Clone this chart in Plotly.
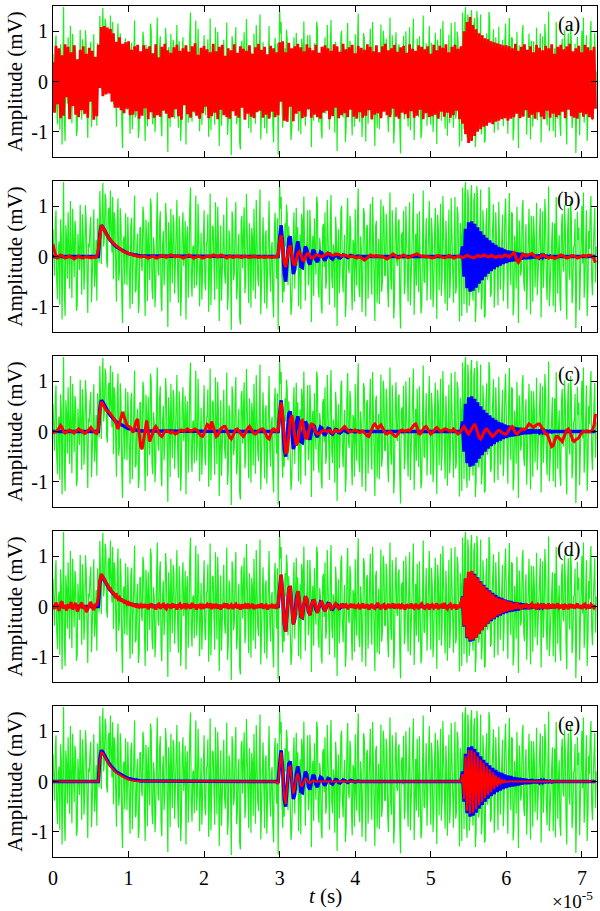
import numpy as np
import plotly.graph_objects as go

# ---------------- data (amplitudes in hundredths of mV) ----------------
DT = 0.02e-5          # sampling interval of the reference / reconstructed traces, s
DT_G = 0.01e-5        # sampling interval of the noisy (green) trace, s
T_MAX = 7.2e-5
X_TICKS = [0, 1, 2, 3, 4, 5, 6, 7]     # x 1e-5 s
Y_TICKS = [-1, 0, 1]
Y_TICKTEXT = ["-1", "0", "1"]
PANEL_LABELS = ["(a)", "(b)", "(c)", "(d)", "(e)"]

green = [
    55, -20, -38, 67, 92, -51, -85, 14, 30, -96, 74, 40, -125, 18, 148, -70, -118, 62, 35, -44,
    88, 8, -64, 110, -12, -83, 95, 29, -41, 71, 57, -108, -97, 45, 12, -27, 103, -59, -76, 84,
    41, -66, -23, 102, 66, -35, -112, 26, 18, 58, 79, -91, -49, 17, 94, -60, -31, 33, -88, 76,
    52, -12, 130, 35, -15, 92, 146, 20, 38, 125, 112, -10, -22, 86, 97, 30, 131, 52, 8, 118,
    -45, 88, 72, -20, -90, 64, 115, -48, -28, 96, 64, -77, -132, 31, 40, -55, 86, 12, -57, 79,
    23, -38, -104, 60, 77, -95, -8, 43, 121, -71, -66, 24, 45, -112, -93, 57, 58, -16, -29, 99,
    84, -41, -118, 73, 33, -89, 69, 5, -47, 115, 101, -62, -85, 38, 16, -101, -62, 47, 127, -26,
    -38, 64, 90, -79, -109, 22, 51, -57, -21, 106, 76, -33, -140, 68, 28, -91, 95, 11, -53, 83,
    67, -74, -26, 49, 112, -37, -92, 80, 39, -118, -71, 55, 88, -19, 5, 71, -125, 36, 60, -82,
    -34, 93, 137, -45, -80, 18, 22, -63, 73, 121, -58, -28, 105, 42, -99, -7, 47, -86, -15, 65,
    92, -52, -67, 27, 31, 84, -110, -39, 125, -97, -43, 61, 58, -14, -86, 108, 14, -65, 99, 37,
    -128, 46, 62, -88, -20, 75, 83, -30, -54, 13, 117, -106, -75, 52, 36, -21, -146, 90, 70, -47,
    -31, 63, 108, -85, -62, 21, 45, -119, -135, 70, 81, -24, 19, 98, -73, -50, 124, 32, -48, -93,
    66, 15, -102, 57, 37, -68, 95, 26, -84, 112, 10, -40, -59, 87, 133, -115, -27, 49, 78, -9,
    -93, 41, 52, -104, -16, 69, 110, -33, -70, 16, 29, -88, -121, 54, 87, -2, -44, 76, -145, 30,
    141, 95, 118, -40, -92, -12, -70, 66, 20, 103, 84, -57, 60, 22, -78, -116, -95, 9, 46, 88,
    -64, 31, 97, -18, 58, -99, -40, 44, -105, 85, 72, -26, 119, -69, -88, 11, 25, 92, -57, -34,
    93, 47, -130, 21, 41, -78, 76, 6, -36, 119, 104, -61, -82, 37, 18, -96, -113, 58, 65, -21,
    88, -64, -47, 112, 31, -15, -96, 68, 122, -41, -63, 24, 7, -102, 79, 50, -138, 17, 54, -73,
    -25, 90, 101, -36, -71, 8, 43, -120, -89, 64, 116, -22, -33, 81, 60, -55, -107, 33, 26, -90,
    94, -19, -58, 73, 135, -62, -81, 40, 17, -110, -44, 96, 86, -3, -119, 55, 63, -84, -9, 29,
    105, -47, -76, 118, 38, -25, -128, 60, 71, -92, 22, 35, -95, 13, 113, -70, -50, 101, 82, -38,
    -37, 85, 59, -67, -101, 19, 127, -44, -66, 92, 30, -123, -84, 57, 98, -11, -19, 66, 74, -87,
    -143, 39, 48, -6, 91, -75, -55, 100, 13, -31, -90, 48, 108, -97, -42, 23, 67, 125, -116, 12,
    45, -58, 85, 4, -71, 90, 20, -113, -99, 36, 131, -49, -52, 18, 76, -88, -27, 61, 110, -16,
    -86, 77, 39, -101, -61, 42, 97, -29, -124, 83, 55, -67, 8, 105, -78, -40, 120, 15, -34, -94,
    71, 28, -108, 59, 93, -83, -45, 116, 26, -52, -92, 10, 118, -74, -60, 99, 84, -31, -129, 67,
    42, -118, 137, 51, -95, 124, 148, -77, -112, 133, 104, -98, -70, 120, 142, -56, -88, 110, 126, -130,
    -97, 140, 115, -72, -64, 35, 133, -105, -81, 92, 52, -121, -118, 60, 96, -46, -35, 138, 122, -80,
    -74, 19, 60, 104, -102, -58, 88, 47, -19, -97, 109, 26, -66, -12, 41, 83, -89, -43, 77, 115,
    30, -71, -104, 55, 126, -20, -57, 88, 84, -117, -93, 41, 14, -64, 99, 9, -132, 72, 47, -38,
    -26, 93, 112, -50, -69, 27, 64, -106, -48, 58, 95, -15, -115, 81, 36, -90, 80, 43, -61, -8,
    107, -77, -38, 20, 54, 96, -121, -35, 90, -62, -15, 114, 73, -48, -87, 31, 139, -99, -53, 16,
    28, 68, -99, -22, 66, -111, 118, 39, -74, 7, 42, -85, -108, 62, 85, -18, -30, 102, 61, -70,
    -125, 44, 96, -29, -46, 110, 79, -93, -68, 18, 23, 75, -142, -60, 89, 33, 57, -107, -36, 64,
    101, -14, 127, -82, -48, 24, 92, -118, -63, 51, 15, 87, 120, -45, -77, 6, 38, 97, -52, 20,
]

blue = [
    0, 0, 0, 0, 0, 0, 0, 0, 0, 0, 0, 0, 0, 0, 0, 0, 0, 0, 0, 0,
    0, 0, 0, 0, 0, 0, 0, 0, 0, 0, 0, 45, 62, 58, 52, 46, 41, 36, 32, 28,
    25, 22, 19, 17, 15, 13, 11, 10, 9, 7, 6, 5, 5, 4, 3, 3, 2, 2, 1, 1,
    1, 0, 0, 0, 0, 0, 0, 0, 0, 0, 0, 0, 0, 0, 0, 0, 0, 0, 0, 0,
    0, 0, 0, 0, 0, 0, 0, 0, 0, 0, 0, 0, 0, 0, 0, 0, 0, 0, 0, 0,
    0, 0, 0, 0, 0, 0, 0, 0, 0, 0, 0, 0, 0, 0, 0, 0, 0, 0, 0, 0,
    0, 0, 0, 0, 0, 0, 0, 0, 0, 0, 0, 0, 0, 0, 0, 0, 0, 0, 0, 0,
    0, 0, 0, 0, 0, 0, 0, 0, 0, 0, 35, 62, 25, -35, -50, -10, 35, 40, -5, -35,
    -25, 15, 30, 12, -20, -22, 2, 20, 14, -10, -16, -2, 13, 10, -6, -11, -2, 9, 7, -4,
    -8, -1, 6, 5, -3, -5, 0, 4, 3, -2, -3, 0, 3, 2, -1, -2, 0, 2, 1, -1,
    -1, 0, 1, 0, 0, 0, 0, 0, 0, 0, 0, 0, 0, 0, 0, 0, 0, 0, 0, 0,
    0, 0, 0, 0, 0, 0, 0, 0, 0, 0, 0, 0, 0, 0, 0, 0, 0, 0, 0, 0,
    0, 0, 0, 0, 0, 0, 0, 0, 0, 0, 0, 0, 0, 0, 0, 0, 0, 0, 0, 0,
    0, 0, 0, 0, 0, 0, 0, 0, 0, 0, 0, 20, -40, 55, -63, 68, -70, 70, -68, 65,
    -62, 58, -54, 50, -47, 43, -40, 37, -34, 32, -29, 27, -25, 23, -21, 19, -18, 17, -15, 14,
    -13, 12, -11, 11, -10, 9, -9, 8, -8, 7, -6, 6, -5, 5, -5, 4, -4, 4, -3, 3,
    -3, 3, -2, 2, -2, 2, -1, 1, -1, 1, -1, 0, 0, 0, 0, 0, 0, 0, 0, 0,
    0, 0, 0, 0, 0, 0, 0, 0, 0, 0, 0, 0, 0, 0, 0, 0, 0, 0, 0, 0,
]

red_a = [
    38, -62, 71, -45, 66, -73, 52, -68, 74, -31, 69, -75, 58, -49, 72, -66, 44, -71, 63, -57,
    70, -64, 55, -72, 67, -40, 61, -76, 49, -69, 73, -13, 108, -29, 110, -26, 107, -24, 104, -40,
    96, -52, 79, -52, 88, -57, 75, -63, 78, -54, 80, -67, 63, -66, 70, -59, 73, -74, 60, -68,
    72, -53, 65, -75, 70, -61, 56, -72, 74, -67, 48, -70, 69, -58, 75, -64, 62, -73, 57, -71,
    68, -55, 73, -69, 61, -76, 66, -47, 72, -65, 59, -72, 70, -60, 76, -68, 53, -74, 67, -63,
    71, -50, 64, -73, 58, -69, 75, -62, 60, -75, 69, -56, 73, -67, 51, -71, 66, -74, 62, -59,
    74, -68, 57, -72, 70, -52, 65, -76, 61, -64, 72, -70, 55, -73, 68, -61, 75, -58, 63, -72,
    69, -66, 54, -74, 71, -60, 66, -71, 58, -67, 78, -40, 80, -78, 58, -80, 77, -50, 66, -79,
    70, -64, 75, -59, 68, -73, 60, -70, 74, -55, 67, -72, 62, -66, 73, -71, 57, -74, 69, -62,
    72, -58, 66, -75, 61, -69, 74, -52, 70, -73, 59, -67, 75, -63, 64, -71, 68, -56, 73, -70,
    56, -74, 71, -61, 67, -72, 63, -68, 74, -57, 69, -75, 60, -66, 72, -63, 58, -73, 70, -60,
    75, -67, 62, -71, 66, -54, 73, -70, 59, -74, 68, -62, 71, -65, 57, -73, 74, -59, 65, -72,
    61, -68, 72, -56, 69, -75, 64, -63, 70, -71, 55, -69, 73, -66, 62, -74, 71, -60, 67, -70,
    74, -62, 58, -72, 69, -67, 73, -58, 65, -75, 70, -84, 100, -105, 118, -122, 128, -118, 112, -108,
    104, -100, 96, -95, 92, -90, 86, -88, 84, -82, 80, -85, 78, -80, 76, -78, 74, -75, 72, -73,
    72, -78, 70, -74, 66, -71, 75, -64, 61, -73, 69, -70, 74, -57, 63, -72, 70, -66, 58, -74,
    73, -61, 67, -70, 62, -75, 71, -58, 66, -72, 74, -64, 55, -71, 69, -67, 73, -60, 64, -73,
    70, -56, 75, -69, 60, -72, 66, -74, 71, -62, 58, -70, 73, -65, 68, -71, 62, -75, 69, -54,
]

red_b = [
    24, 12, -2, -3, 0, 3, 2, -1, -3, -2, 0, 1, -1, -4, -5, -3, 0, 1, -1, -3,
    -3, -2, 0, -1, -2, -3, -2, -1, -2, 0, 15, 45, 62, 58, 52, 46, 41, 36, 33, 29,
    26, 23, 21, 18, 16, 14, 11, 9, 8, 6, 5, 4, 3, 2, 2, 1, 0, 0, -1, 0,
    1, 0, -2, -3, -2, 0, 1, 0, -3, -3, -1, 1, 2, 1, -1, -2, 0, 2, 3, 2,
    0, -1, 0, 1, 0, -2, -3, -2, 0, 2, 3, 1, -1, -3, -2, 0, 1, 0, -2, -3,
    -2, 0, 1, 0, -1, 1, 3, 2, 0, -1, 1, 3, 2, 0, -2, -3, -1, 1, 0, -2,
    -1, 0, 1, 0, -1, -2, 0, 1, 0, -1, -2, -1, 0, 1, 0, -1, -2, -1, 0, -1,
    -2, -1, 0, -1, -2, -2, -1, 0, -1, 2, 30, 42, 18, -12, -21, -5, 15, 22, 8, -12,
    -18, -8, 6, 10, 4, -6, -8, -2, 5, 6, 1, -3, -3, 0, 3, 3, 1, 0, 0, 1,
    3, 5, 6, 5, 3, 2, 3, 4, 5, 4, 2, 1, 2, 3, 2, 0, -1, 0, 1, 0,
    -2, -3, -2, 0, -2, -5, -7, -5, -2, 1, 3, 2, 0, 1, 2, 1, 0, -1, 0, -2,
    -4, -5, -3, 0, 3, 5, 3, 0, -3, -2, 0, 2, 3, 1, -1, -2, -1, 1, 2, 3,
    4, 5, 3, 1, 0, 1, 0, -1, 0, -1, -2, -3, -2, 0, 1, 2, 1, 0, -2, -3,
    -2, 0, 2, 1, -1, -3, -2, 0, 1, 0, -1, -2, -1, 1, 2, 1, 0, -1, -3, -2,
    0, 2, 1, 0, 1, 3, 2, 0, -1, 0, 2, 1, -1, -2, 0, 1, 0, -1, 1, 3,
    2, 0, -1, 2, 6, 8, 2, -8, -12, -6, 2, 5, 3, 1, 2, 3, 5, 6, 3, 0,
    -2, -3, -1, 1, 3, 2, 0, -2, -3, -2, 0, -2, -4, -3, -1, 1, 3, 2, 0, -1,
    -3, -2, 0, 1, 2, 1, -1, -3, -2, 0, 1, 2, 1, 0, 2, 3, 2, 0, -5, -12,
]

red_c = [
    -3, -2, 0, 2, 6, 12, 8, 0, -3, -1, 2, 3, 1, -2, -3, 0, 3, 5, 3, 0,
    -2, -4, -2, 2, 6, 8, 4, 0, -3, -4, 5, 40, 59, 54, 48, 43, 40, 39, 35, 32,
    27, 22, 12, 5, 15, 30, 39, 30, 18, 12, 10, 9, 4, -2, 8, 20, 25, 0, -30, -35,
    -15, 12, 22, 0, -20, -12, 0, 6, 10, 5, -3, -8, -10, -5, 0, 2, 0, -2, -3, 0,
    -2, -5, -4, 0, 2, 3, 1, 0, 3, 5, 3, 0, 2, 4, 5, 3, 0, -5, -9, -10,
    -4, 5, 14, 12, 3, 20, 10, -3, -10, -8, 0, 5, 8, 10, 10, 3, -6, -12, -15, -8,
    0, 4, 5, 2, -3, -7, -10, -5, 2, 7, 10, 6, 0, -4, -5, -2, 2, 4, 5, 5,
    0, -6, -13, -15, -6, 3, 5, 2, 0, 3, 35, 58, 30, -15, -42, -40, -5, 22, 32, 18,
    -8, -28, -20, 2, 20, 22, 5, -12, -15, -2, 10, 15, 14, 5, -2, -5, -5, -2, 0, 2,
    2, 1, 0, 2, -1, -3, 0, 3, 2, 0, 1, 4, 7, 10, 6, 2, 0, -1, 0, 2,
    3, 1, -1, -2, 0, 1, -2, -6, -9, -10, -4, 5, 12, 15, 10, 6, 10, 13, 8, 2,
    -4, -5, -2, 0, -3, -7, -9, -10, -6, 0, 2, 3, 1, 0, 2, 3, 1, 4, 9, 13,
    15, 8, -4, -5, 0, 6, 9, 10, 4, -2, -5, -3, 2, 6, 8, 4, 1, 0, 2, 5,
    5, 3, 1, 0, 2, 5, 2, -2, -5, -3, 1, 5, 10, 6, -2, -5, 0, 6, 12, 15,
    8, -3, -12, -15, -10, -2, 3, 5, 2, -3, -7, -10, -7, -3, 0, 2, 1, -2, -4, -5,
    -5, 0, 5, 9, 10, 4, -3, -5, -2, 2, 4, 5, 4, 6, 11, 15, 13, 10, 8, 11,
    14, 15, 15, 10, 3, -2, -5, -5, -12, -22, -30, -28, -18, -10, -10, -14, -18, -20, -12, -2,
    3, 5, 0, -8, -18, -20, -16, -15, -12, -6, -2, 0, 0, 1, 0, -1, 0, 3, 12, 35,
]

red_d = [
    3, -5, 8, -2, -9, 6, 10, -4, 2, -8, 5, -3, 9, -6, 1, 7, -10, -3, 4, 8,
    -5, 2, -11, -6, 3, 9, -2, -7, 5, 1, 20, 50, 65, 58, 55, 46, 44, 35, 36, 28,
    27, 20, 23, 15, 18, 10, 14, 7, 12, 5, 8, 2, 7, 0, 5, -2, 4, -1, 3, -3,
    5, -2, 4, -5, 1, 6, -3, 2, -6, 3, 5, -4, 0, 7, -2, -5, 3, 1, -4, 6,
    -1, 4, -6, 2, 5, -3, -1, 6, -5, 3, 0, -4, 7, -2, 4, -6, 1, 3, -5, 5,
    -2, 0, 4, -3, 6, -5, 2, -1, 5, -4, 3, -6, 1, 4, -2, 6, -4, 0, 3, -5,
    2, 5, -3, 1, -6, 4, -1, 3, -4, 6, -2, 0, 5, -5, 2, -3, 4, -1, 6, -4,
    1, 3, -6, 2, -2, 5, -3, 1, -4, 3, 38, 64, 22, -33, -50, -12, 36, 38, -3, -36,
    -22, 13, 31, 14, -18, -24, 4, 18, 16, -8, -18, 0, 11, 12, -4, -13, 0, 7, 9, -2,
    -10, 1, 4, 7, -5, -3, 2, 6, 0, -4, 1, 5, -3, 2, 4, -5, 1, 3, -2, 5,
    -4, 0, 3, -5, 2, 6, -3, 0, 4, -6, 1, 5, -2, -4, 3, 7, -1, -5, 2, 4,
    -6, 0, 5, -3, 1, 6, -4, 2, -1, 5, -5, 3, 0, -6, 4, 1, -3, 6, -2, -4,
    5, 0, -5, 3, 6, -2, -4, 1, 5, -6, 2, 4, -3, 0, 6, -5, 1, 3, -4, 7,
    -2, -5, 2, 5, -3, 0, 4, -6, 3, -2, 6, 18, -38, 56, -61, 69, -67, 71, -66, 63,
    -62, 56, -55, 48, -47, 41, -40, 34, -33, 30, -26, 24, -23, 19, -18, 16, -15, 14, -12, 13,
    -10, 10, -8, 9, -7, 6, -5, 8, -4, 3, -6, 4, -2, 5, 0, -5, 3, 6, -3, 1,
    -6, 4, 2, -4, 5, -1, 3, -5, 6, -2, 0, 5, -4, 2, 6, -3, -1, 4, -6, 3,
    1, -5, 5, -2, 4, -4, 0, 6, -3, 2, -5, 3, 5, -2, 1, -4, 4, 0, -3, 2,
]

red_e = [
    0, 0, 0, 0, 0, 0, 0, 0, 0, 0, 0, 0, 0, 0, 0, 0, 0, 0, 0, 0,
    0, 0, 0, 0, 0, 0, 0, 0, 0, 0, 0, 42, 58, 56, 50, 44, 39, 34, 30, 26,
    23, 20, 17, 15, 13, 11, 9, 8, 7, 5, 4, 3, 3, 2, 1, 1, 1, 0, 0, 0,
    0, 0, 0, 0, 0, 0, 0, 0, 0, 0, 0, 0, 0, 0, 0, 0, 0, 0, 0, 0,
    0, 0, 0, 0, 0, 0, 0, 0, 0, 0, 0, 0, 0, 0, 0, 0, 0, 0, 0, 0,
    0, 0, 0, 0, 0, 0, 0, 0, 0, 0, 0, 0, 0, 0, 0, 0, 0, 0, 0, 0,
    0, 0, 0, 0, 0, 0, 0, 0, 0, 0, 0, 0, 0, 0, 0, 0, 0, 0, 0, 0,
    0, 0, 0, 0, 0, 0, 0, 0, -3, -4, 30, 58, 24, -30, -45, -10, 28, 30, -2, -24,
    -15, 8, 16, 6, -8, -9, 0, 6, 4, -2, -3, 0, 2, 1, -1, 0, 0, 0, 0, 0,
    0, 0, 0, 0, 0, 0, 0, 0, 0, 0, 0, 0, 0, 0, 0, 0, 0, 0, 0, 0,
    0, 0, 0, 0, 0, 0, 0, 0, 0, 0, 0, 0, 0, 0, 0, 0, 0, 0, 0, 0,
    0, 0, 0, 0, 0, 0, 0, 0, 0, 0, 0, 0, 0, 0, 0, 0, 0, 0, 0, 0,
    0, 0, 0, 0, 0, 0, 0, 0, 0, 0, 0, 0, 0, 0, 0, 0, 0, 0, 0, 0,
    0, 0, 0, 0, 0, 0, 0, 0, 0, 0, 0, 15, -35, 50, -58, 62, -64, 63, -62, 58,
    -55, 50, -47, 43, -40, 37, -33, 30, -27, 24, -21, 18, -15, 12, -10, 8, -6, 4, -3, 2,
    -1, 0, 0, 0, 0, 0, 0, 0, 0, 0, 0, 0, 0, 0, 0, 0, 0, 0, 0, 0,
    0, 0, 0, 0, 0, 0, 0, 0, 0, 0, 0, 0, 0, 0, 0, 0, 0, 0, 0, 0,
    0, 0, 0, 0, 0, 0, 0, 0, 0, 0, 0, 0, 0, 0, 0, 0, 0, 0, 0, 0,
]

reds = [red_a, red_b, red_c, red_d, red_e]

# ---------------- styling ----------------
FONT = "Liberation Serif, Times New Roman, serif"
GREEN = "#1AF01A"
BLUE = "#0000FF"
RED = "#FF0000"
RED_W = [2.8, 3, 3, 3, 2]
BLUE_W = [2, 3.5, 3.5, 3.5, 3.5]
PITCH = 175 / 851
PH = 151 / 851


def series(vals, dt):
    arr = np.asarray(vals, dtype=float) * 0.01
    tt = np.arange(len(arr)) * dt
    return tt, arr


fig = go.Figure()
layout = dict(
    width=600, height=911,
    margin=dict(l=53, r=3, t=6, b=54, autoexpand=False),
    paper_bgcolor="white", plot_bgcolor="white",
    showlegend=False,
    font=dict(family=FONT, size=20, color="black"),
)

annotations = []
for k in range(5):
    n = k + 1
    xa = "x" if n == 1 else f"x{n}"
    ya = "y" if n == 1 else f"y{n}"
    for vals, dt, col, w in [(green, DT_G, GREEN, 1.2), (blue, DT, BLUE, BLUE_W[k]),
                             (reds[k], DT, RED, RED_W[k])]:
        tt, yy = series(vals, dt)
        fig.add_trace(go.Scatter(x=tt, y=yy, mode="lines", xaxis=xa, yaxis=ya,
                                 line=dict(color=col, width=w), hoverinfo="skip"))
    top = 1 - k * PITCH
    dom = [max(0.0, top - PH), top]
    bottom = (n == 5)
    layout["xaxis" if n == 1 else f"xaxis{n}"] = dict(
        domain=[0, 1], range=[0, T_MAX], anchor=ya, automargin=False,
        tickvals=[v * 1e-5 for v in X_TICKS], ticktext=[str(v) for v in X_TICKS],
        showticklabels=bottom, ticks="inside", ticklen=6, tickwidth=1, tickcolor="black",
        ticklabelstandoff=3,
        showline=True, linecolor="black", linewidth=1, mirror="ticks",
        showgrid=False, zeroline=False,
        tickfont=dict(family=FONT, size=20),
    )
    layout["yaxis" if n == 1 else f"yaxis{n}"] = dict(
        domain=dom, range=[-1.5, 1.5], anchor=xa, automargin=False,
        tickvals=Y_TICKS, ticktext=Y_TICKTEXT,
        ticks="inside", ticklen=6, tickwidth=1, tickcolor="black",
        showline=True, linecolor="black", linewidth=1, mirror="ticks",
        showgrid=False, zeroline=False,
        tickfont=dict(family=FONT, size=20),
        title=dict(text="Amplitude (mV)", font=dict(family=FONT, size=21), standoff=2),
    )
    annotations.append(dict(text=PANEL_LABELS[k], xref=f"{xa} domain", yref=f"{ya} domain",
                            x=0.9485, y=0.88, xanchor="center", yanchor="middle",
                            showarrow=False, font=dict(family=FONT, size=20)))

annotations.append(dict(text="<i>t</i> (s)", xref="paper", yref="paper", x=0.5, y=-0.0458,
                        xanchor="center", yanchor="middle", showarrow=False,
                        font=dict(family=FONT, size=21)))
annotations.append(dict(text="×10<sup>-5</sup>", xref="paper", yref="paper", x=0.995, y=-0.05,
                        xanchor="right", yanchor="middle", showarrow=False, borderpad=0,
                        font=dict(family=FONT, size=19)))
layout["annotations"] = annotations
fig.update_layout(**layout)
fig.write_html("out.html", config={"displayModeBar": False},
               post_script="document.body.style.margin='0';document.body.style.overflow='hidden';")
